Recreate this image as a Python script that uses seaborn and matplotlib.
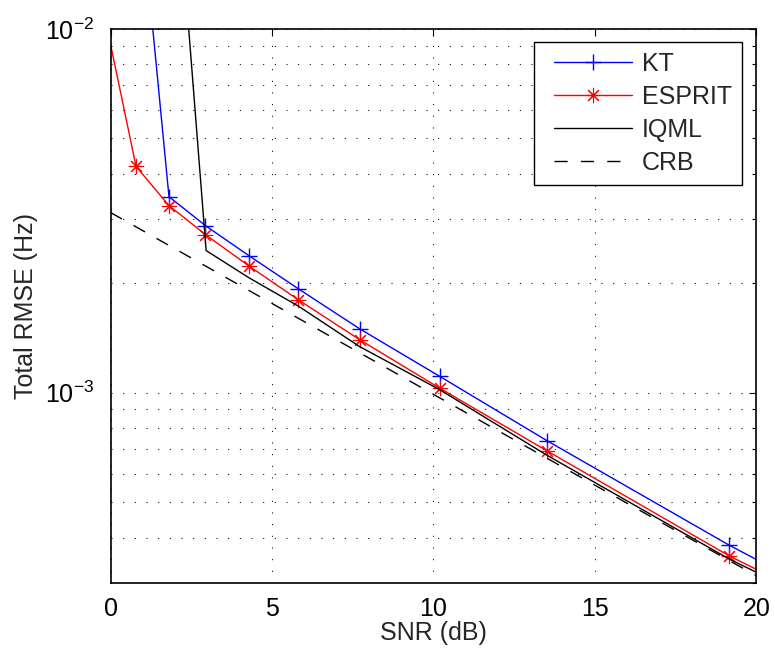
import matplotlib
matplotlib.use("Agg")
import matplotlib.pyplot as plt
import seaborn as sns
from matplotlib.lines import Line2D
from matplotlib.legend_handler import HandlerLine2D
from matplotlib.ticker import LogLocator, NullFormatter, FixedLocator

# --- values (SNR in dB, RMSE in Hz) ---
snr_kt = [0.79, 1.81, 2.94, 4.29, 5.82, 7.71, 10.19, 13.52, 19.16, 20.0]
rmse_kt = [3.0e-2, 3.46e-3, 2.88e-3, 2.38e-3, 1.93e-3, 1.50e-3, 1.11e-3, 7.38e-4, 3.81e-4, 3.48e-4]

snr_esprit = [0.0, 0.79, 1.81, 2.94, 4.29, 5.82, 7.71, 10.19, 13.52, 19.16, 20.0]
rmse_esprit = [9.08e-3, 4.19e-3, 3.27e-3, 2.72e-3, 2.23e-3, 1.80e-3, 1.40e-3, 1.03e-3, 6.92e-4, 3.56e-4, 3.27e-4]

snr_iqml = [1.81, 2.96, 4.29, 5.82, 7.71, 10.19, 13.52, 19.16, 20.0]
rmse_iqml = [4.9e-2, 2.46e-3, 2.07e-3, 1.73e-3, 1.34e-3, 1.02e-3, 6.73e-4, 3.49e-4, 3.21e-4]

snr_crb = [0, 5, 10, 15, 20]
rmse_crb = [3.13e-3, 1.76e-3, 9.9e-4, 5.57e-4, 3.14e-4]

labels = ["KT", "ESPRIT", "IQML", "CRB"]
xticks = [0, 5, 10, 15, 20]

sns.set_style("white")
plt.rcParams["font.family"] = ["Liberation Sans", "DejaVu Sans"]
plt.rcParams["mathtext.fontset"] = "custom"
plt.rcParams["mathtext.rm"] = "Liberation Sans"
plt.rcParams["mathtext.it"] = "Liberation Sans"
plt.rcParams["mathtext.default"] = "regular"
plt.rcParams["font.size"] = 18

fig = plt.figure(figsize=(7.75, 6.57), dpi=100)
ax = fig.add_axes([0.1426, 0.1126, 0.8335, 0.8433])

# KT: blue line with '+' markers (last vertex at 20 dB has none)
sns.lineplot(x=snr_kt, y=rmse_kt, ax=ax, color="#0000ff", lw=1.0,
             marker="+", ms=12, mew=1.0, mec="#0000ff",
             markevery=list(range(len(snr_kt) - 1)),
             sort=False, estimator=None, label=labels[0])
# ESPRIT: red line with asterisks
sns.lineplot(x=snr_esprit, y=rmse_esprit, ax=ax, color="#ff0000", lw=1.0,
             marker=(8, 2, 0), ms=11, mew=0.8, mec="#ff0000",
             markevery=list(range(1, len(snr_esprit) - 1)),
             sort=False, estimator=None, label=labels[1])
# IQML: plain black line
sns.lineplot(x=snr_iqml, y=rmse_iqml, ax=ax, color="black", lw=1.0,
             sort=False, estimator=None, label=labels[2])
# CRB: dashed black
sns.lineplot(x=snr_crb, y=rmse_crb, ax=ax, color="black", lw=1.0,
             linestyle=(0, (9.5, 9.5)),
             sort=False, estimator=None, label=labels[3])

ax.set_yscale("log")
ax.set_xlim(0, 20)
ax.set_ylim(3.0e-4, 1e-2)
ax.xaxis.set_major_locator(FixedLocator(xticks))
ax.yaxis.set_major_locator(LogLocator(base=10))
ax.yaxis.set_minor_locator(LogLocator(base=10, subs=range(2, 10)))
ax.yaxis.set_minor_formatter(NullFormatter())

# MATLAB-like box, inward ticks, dotted grid
for sp in ax.spines.values():
    sp.set_visible(True)
    sp.set_color("black")
    sp.set_linewidth(1.2)
ax.tick_params(which="both", direction="in", top=True, right=True, colors="black")
ax.tick_params(which="major", length=5, width=0.8, labelsize=18)
ax.tick_params(which="minor", length=3, width=0.8)
ax.tick_params(axis="x", which="major", pad=10)
ax.tick_params(axis="y", which="major", pad=12)
grid_ls = (0, (1, 10.2))
ax.grid(which="major", axis="both", color="black", lw=0.75, ls=grid_ls)
ax.grid(which="minor", axis="y", color="black", lw=0.75, ls=grid_ls)

ax.set_xlabel("SNR (dB)", fontsize=18)
ax.set_ylabel("Total RMSE (Hz)", fontsize=18)
ax.xaxis.set_label_coords(0.5, -0.068)
ax.yaxis.set_label_coords(-0.112, 0.5)

leg = ax.legend(loc="upper right", bbox_to_anchor=(0.9776, 0.9765),
                borderaxespad=0, fontsize=18, handlelength=3.5,
                handletextpad=0.4, labelspacing=0.36, borderpad=0.4,
                fancybox=False, framealpha=1, edgecolor="black",
                handler_map={Line2D: HandlerLine2D(xpad=0.4)})
leg.get_frame().set_linewidth(1.0)

fig.savefig("out.png", dpi=100)
